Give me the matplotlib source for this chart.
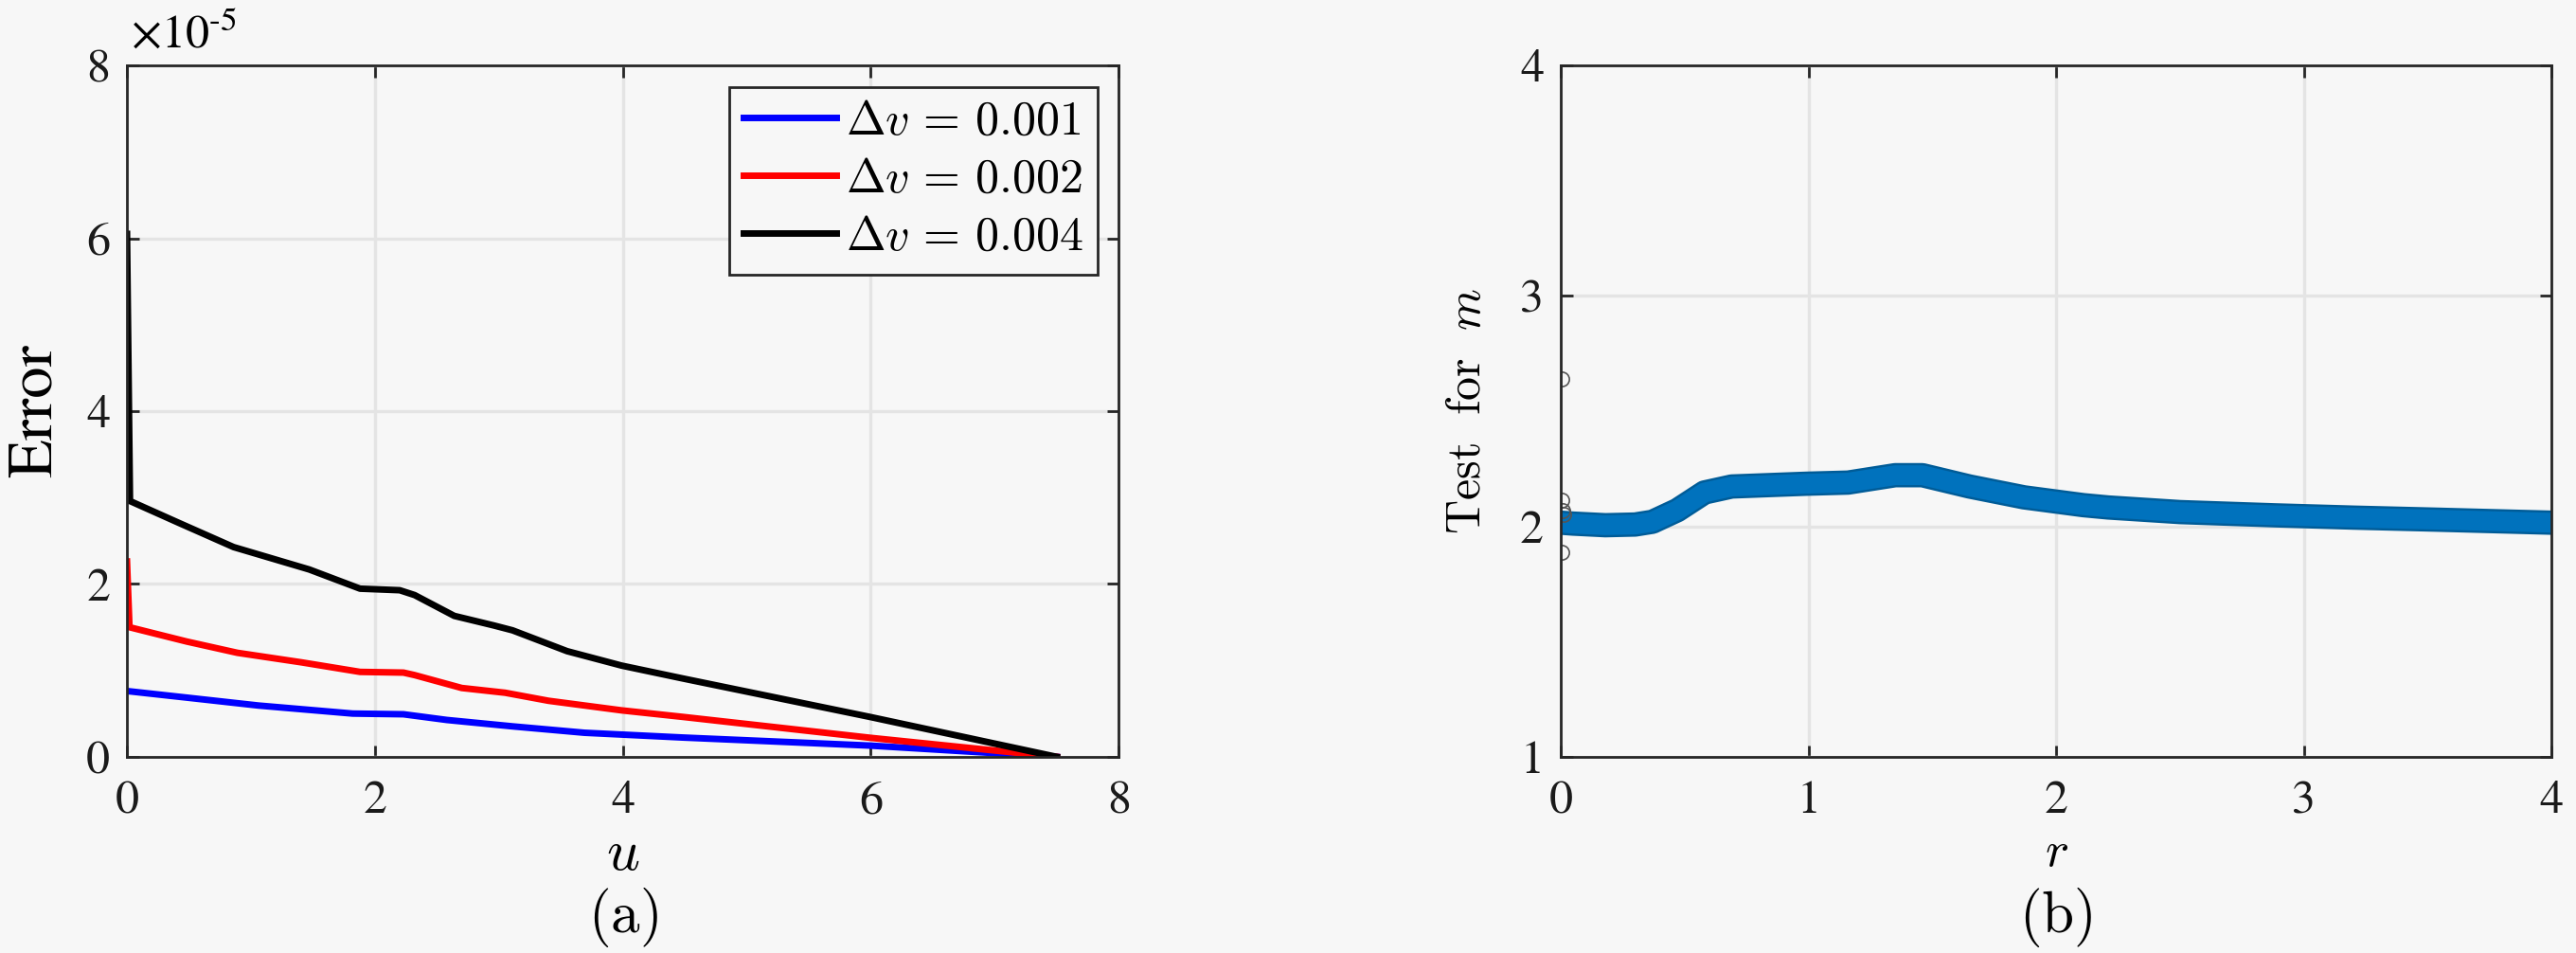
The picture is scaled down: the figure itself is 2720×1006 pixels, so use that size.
import numpy as np
import matplotlib.pyplot as plt

plt.rcParams['font.family'] = ['STIXGeneral', 'DejaVu Serif']
plt.rcParams['mathtext.fontset'] = 'cm'

BG = '#f7f7f7'
GRID = '#e4e4e4'
FRAME = '#262626'

# panel (a): error vs u, values in units of 1e-5
u_1 = [0.0, 0.01, 0.48, 1.06, 1.82, 2.23, 2.58, 3.11, 3.69, 4.48, 6.0, 7.5]
err_1 = [0.76, 0.76, 0.686, 0.594, 0.501, 0.493, 0.427, 0.353, 0.279, 0.224, 0.13, 0.0]

u_2 = [0.0, 0.02, 0.48, 0.89, 1.41, 1.88, 2.23, 2.32, 2.70, 3.05, 3.40, 3.99, 4.48, 6.0, 7.5]
err_2 = [2.26, 1.50, 1.335, 1.204, 1.093, 0.983, 0.975, 0.946, 0.797, 0.742, 0.649, 0.538, 0.463, 0.22, 0.0]

u_4 = [0.0, 0.024, 0.42, 0.86, 1.47, 1.88, 2.20, 2.32, 2.64, 2.96, 3.11, 3.55, 3.99, 4.48, 6.0, 7.5]
err_4 = [6.05, 2.96, 2.706, 2.427, 2.168, 1.946, 1.928, 1.872, 1.631, 1.52, 1.464, 1.223, 1.056, 0.908, 0.46, 0.0]

labels_a = [r'$\Delta v\,=\,0.001$', r'$\Delta v\,=\,0.002$', r'$\Delta v\,=\,0.004$']
colors_a = ['#0000ff', '#ff0000', '#000000']

# panel (b): test for m vs r
r_vals = [0.0, 0.05, 0.18, 0.30, 0.37, 0.47, 0.58, 0.69, 0.99, 1.16, 1.35, 1.46,
          1.65, 1.87, 2.11, 2.21, 2.50, 2.88, 3.20, 3.54, 4.0]
m_vals = [2.016, 2.012, 2.005, 2.008, 2.02, 2.07, 2.147, 2.173, 2.185, 2.19, 2.222, 2.222,
          2.173, 2.126, 2.092, 2.082, 2.062, 2.048, 2.038, 2.029, 2.016]
r_out = [0.005, 0.005, 0.008, 0.012, 0.005]
m_out = [2.64, 2.112, 2.07, 2.05, 1.887]

fig = plt.figure(figsize=(27.2, 10.06), dpi=100, facecolor=BG)
ax1 = fig.add_axes([0.0493, 0.2058, 0.385, 0.7256])
ax2 = fig.add_axes([0.6059, 0.2058, 0.3846, 0.7256])


def style(ax):
    ax.set_facecolor(BG)
    ax.grid(True, color=GRID, lw=2.4)
    ax.set_axisbelow(True)
    for s in ax.spines.values():
        s.set_color(FRAME)
        s.set_linewidth(2.0)
        s.set_zorder(5)
    ax.tick_params(direction='in', length=9, width=2.0, color=FRAME,
                   top=True, right=True, labelsize=36, labelcolor='#1a1a1a')
    ax.tick_params(axis='x', pad=18)
    ax.tick_params(axis='y', pad=13)


style(ax1)
for xs, ys, c, lab in zip([u_1, u_2, u_4], [err_1, err_2, err_4], colors_a, labels_a):
    ax1.plot(xs, ys, color=c, lw=5, label=lab, solid_joinstyle='round')
ax1.set_xlim(0, 8)
ax1.set_ylim(0, 8)
ax1.set_xticks([0, 2, 4, 6, 8])
ax1.set_yticks([0, 2, 4, 6, 8])
ax1.set_ylabel('Error', fontsize=48)
ax1.set_xlabel('$u$', fontsize=44)
ax1.yaxis.set_label_coords(-0.0907, 0.5)
ax1.xaxis.set_label_coords(0.5, -0.144)
ax1.text(0.004, 1.012, r'$\times10^{\text{-}5}$', transform=ax1.transAxes,
         fontsize=36, math_fontfamily='stix', va='bottom', ha='left')
leg = ax1.legend(loc='upper right', fontsize=36, frameon=True, fancybox=False,
                 edgecolor=FRAME, facecolor=BG, framealpha=1, handlelength=1.95,
                 handletextpad=0.2, labelspacing=0.3, borderaxespad=0.45,
                 borderpad=0.3)
leg.get_frame().set_linewidth(2.0)

style(ax2)
ax2.plot(r_vals, m_vals, color='#005c98', lw=18.5, solid_capstyle='round',
         solid_joinstyle='round', zorder=3)
ax2.plot(r_vals, m_vals, color='#0072bd', lw=15, solid_capstyle='round',
         solid_joinstyle='round', zorder=3)
ax2.plot(r_out, m_out, 'o', mfc='none', mec='#555555', ms=11, mew=1.2, zorder=4)
ax2.set_xlim(0, 4)
ax2.set_ylim(1, 4)
ax2.set_xticks([0, 1, 2, 3, 4])
ax2.set_yticks([1, 2, 3, 4])
ax2.set_ylabel(r'$\mathrm{Test}\ \ \mathrm{for}\ \ m$', fontsize=36)
ax2.set_xlabel('$r$', fontsize=38)
ax2.yaxis.set_label_coords(-0.0927, 0.5)
ax2.xaxis.set_label_coords(0.5, -0.141)

for ax in (ax1, ax2):
    ax.xaxis.label.set_va('center')
    ax.yaxis.label.set_va('center')

# sub-figure captions near the bottom edge
for ax, cap in [(ax1, r'$(\mathrm{a})$'), (ax2, r'$(\mathrm{b})$')]:
    pos = ax.get_position()
    fig.text(pos.x0 + pos.width / 2, 4 / 1006, cap, fontsize=44,
             ha='center', va='bottom')

fig.savefig('out.png', dpi=100, facecolor=BG)
